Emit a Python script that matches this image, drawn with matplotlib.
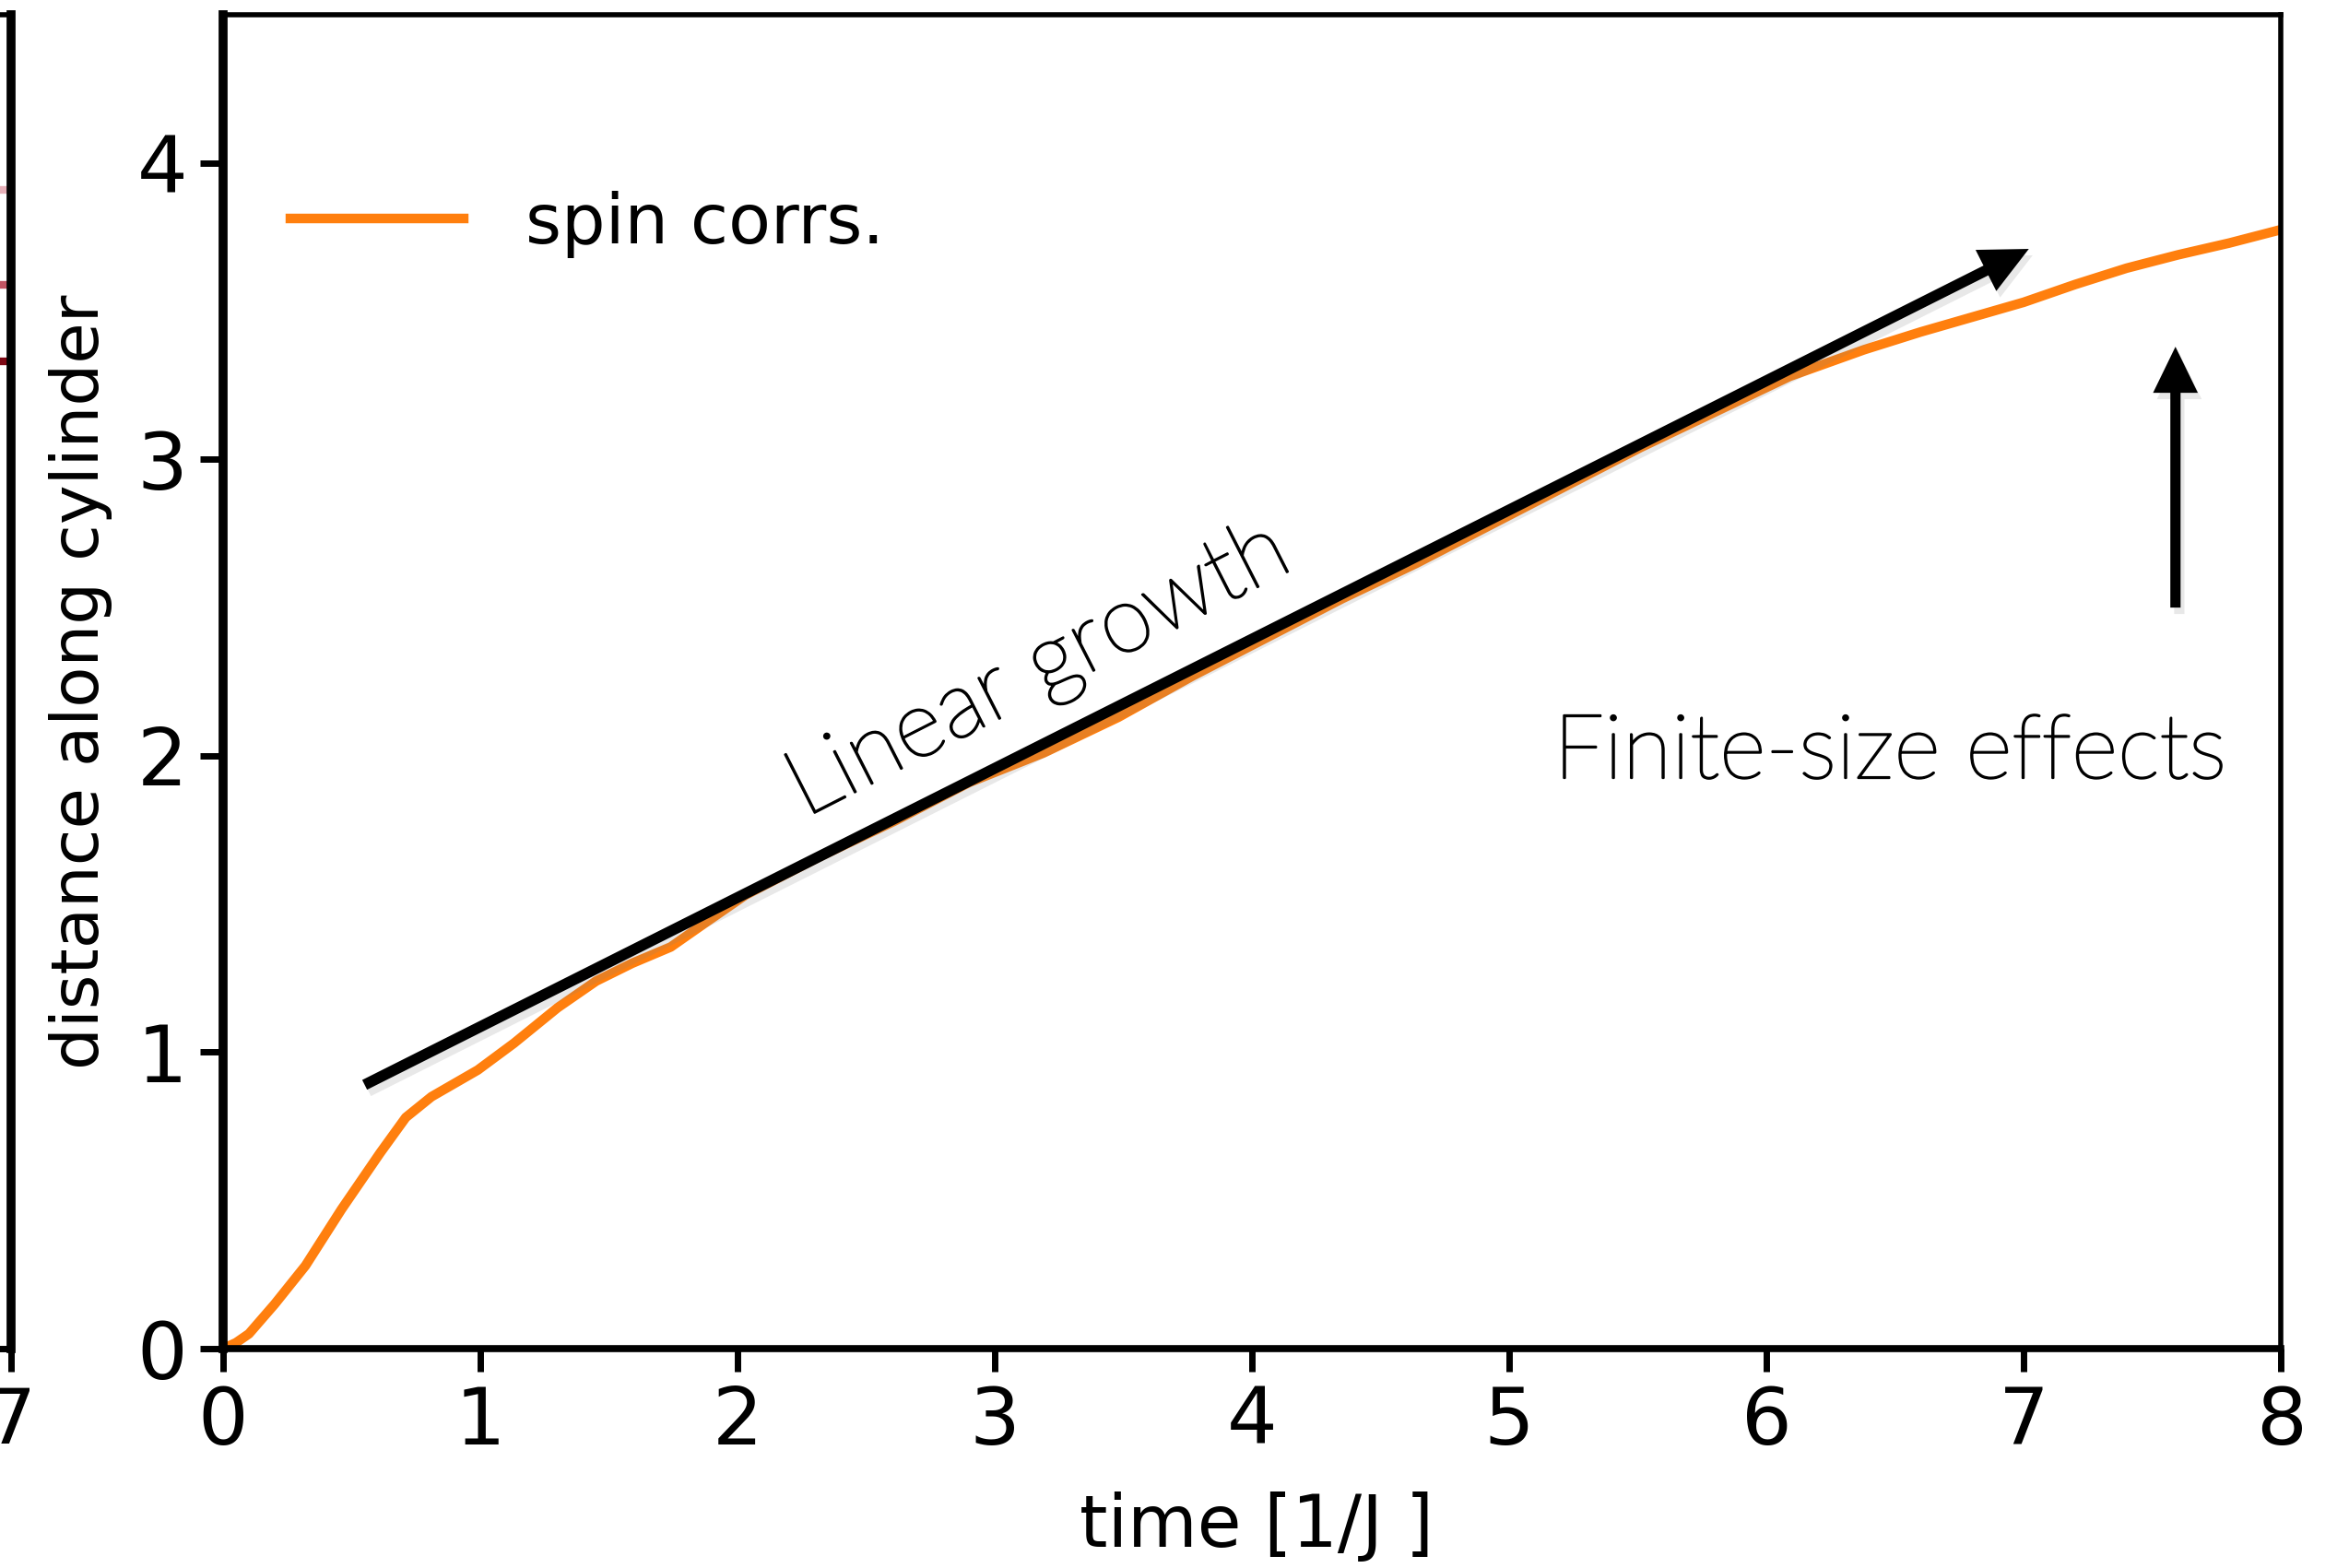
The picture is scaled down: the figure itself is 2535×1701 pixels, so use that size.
import numpy as np
import matplotlib
matplotlib.use("Agg")
from matplotlib import pyplot as plt
import matplotlib.patheffects as pe

plt.rcParams['font.family'] = ['DejaVu Sans']

# spreading front of the spin correlations
t = [0.0, 0.05, 0.1, 0.2, 0.32, 0.46, 0.61, 0.71, 0.81, 0.99, 1.13, 1.30,
     1.45, 1.59, 1.74, 1.88, 2.03, 2.32, 2.61, 2.90, 3.19, 3.48, 3.77,
     4.06, 4.35, 4.64, 4.93, 5.22, 5.51, 5.80, 6.09, 6.38, 6.6, 6.8,
     7.0, 7.2, 7.4, 7.6, 7.8, 8.0]
dist = [0.0, 0.02, 0.05, 0.15, 0.28, 0.47, 0.66, 0.78, 0.85, 0.94, 1.03, 1.15,
        1.24, 1.30, 1.355, 1.44, 1.53, 1.66, 1.78, 1.91, 2.01, 2.13, 2.27,
        2.40, 2.53, 2.65, 2.78, 2.91, 3.04, 3.16, 3.28, 3.37, 3.43, 3.48,
        3.53, 3.59, 3.645, 3.69, 3.73, 3.775]

# guide arrows
lin_start = (0.55, 0.89)
lin_end = (7.02, 3.71)
fs_x = 7.59
fs_start, fs_end = 2.50, 3.38

# edge of the neighbouring panel
nb_x = [6.0, 7.0]
nb_levels = [3.91, 3.59, 3.33]
nb_colors = ['#e6b0b8', '#c25563', '#7d0814']

orange = '#ff7f0e'

fig = plt.figure(figsize=(25.35, 17.01), dpi=100)

ax0 = fig.add_axes([0.0047 - 0.3, 0.1399, 0.3, 0.8507])
for lv, c in zip(nb_levels, nb_colors):
    ax0.plot(nb_x, [lv, lv], color=c, lw=6)
ax0.set_xlim(0, 7)
ax0.set_ylim(0, 4.5)
ax0.set_xticks([7])
ax0.set_yticks([])
ax0.tick_params(axis='x', labelsize=60, width=5, length=18, pad=10)
ax0.spines['right'].set_linewidth(7)
ax0.spines['bottom'].set_linewidth(5)
ax0.spines['top'].set_linewidth(4)

ax = fig.add_axes([0.0955, 0.1399, 0.8805, 0.8507])
ax.plot(t, dist, color=orange, lw=7.5, label='spin corrs.')
ax.set_xlim(0, 8)
ax.set_ylim(0, 4.5)
ax.set_xticks(range(9))
ax.set_yticks(range(5))
ax.tick_params(labelsize=62, width=5, length=18, pad=10)
ax.spines['left'].set_linewidth(7)
ax.spines['bottom'].set_linewidth(5.5)
ax.spines['top'].set_linewidth(4)
ax.spines['right'].set_linewidth(4)

ax.set_xlabel('time [1/J ]', fontsize=56)
ax.xaxis.label.set_va('baseline')
ax.xaxis.set_label_coords(0.502, -0.1486)
ax.set_ylabel('distance along cylinder', fontsize=52)
ax.yaxis.set_label_coords(-0.054, 0.5)

ax.legend(loc='center left', bbox_to_anchor=(0.0327, 0.843), frameon=False,
          fontsize=54, handlelength=2.5, handletextpad=0.9,
          borderpad=0, borderaxespad=0)

shadow = [pe.SimplePatchShadow(offset=(3, -5), alpha=0.18, shadow_rgbFace='gray'),
          pe.Normal()]

a1 = ax.annotate('', xy=lin_end, xytext=lin_start,
                 arrowprops=dict(arrowstyle='simple,head_length=0.75,head_width=0.72,tail_width=0.17',
                                 fc='black', ec='none', lw=0,
                                 mutation_scale=50, shrinkA=0, shrinkB=0))
a1.arrow_patch.set_path_effects(shadow)
a2 = ax.annotate('', xy=(fs_x, fs_end), xytext=(fs_x, fs_start),
                 arrowprops=dict(arrowstyle='simple,head_length=0.72,head_width=0.7,tail_width=0.16',
                                 fc='black', ec='none', lw=0,
                                 mutation_scale=50, shrinkA=0, shrinkB=0))
a2.arrow_patch.set_path_effects(shadow)

# light humanist face, slightly thickened
note_fx = [pe.withStroke(linewidth=1.6, foreground='black')]
ax.text(2.262, 1.791, 'Linear growth', rotation=27, rotation_mode='anchor',
        ha='left', va='baseline', fontsize=73, family=['Lato', 'DejaVu Sans'],
        fontweight='light', color='black', path_effects=note_fx)
ax.text(5.172, 1.925, 'Finite-size effects', ha='left', va='baseline',
        fontsize=70, family=['Lato', 'DejaVu Sans'], fontweight='light',
        color='black', path_effects=note_fx)

fig.savefig('out.png', dpi=100)
